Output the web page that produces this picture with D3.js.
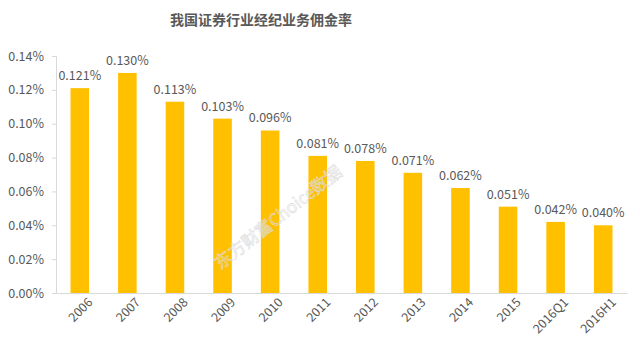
<!DOCTYPE html>
<html>
<head>
<meta charset="utf-8">
<script src="https://cdn.jsdelivr.net/npm/d3@7/dist/d3.min.js"></script>
<style>
  body { margin: 0; background: #fff; }
  svg text { font-family: "Noto Sans CJK SC", "Liberation Sans", sans-serif; }
</style>
</head>
<body>
<div id="chart"></div>
<script>
var categories = ["2006", "2007", "2008", "2009", "2010", "2011", "2012", "2013", "2014", "2015", "2016Q1", "2016H1"];
var rates = [0.121, 0.130, 0.113, 0.103, 0.096, 0.081, 0.078, 0.071, 0.062, 0.051, 0.042, 0.040];
var yTicks = [0, 0.02, 0.04, 0.06, 0.08, 0.10, 0.12, 0.14];

var width = 640, height = 353;
var margin = { left: 56, right: 13, top: 56, bottom: 60 };

var svg = d3.select("#chart").append("svg")
  .attr("width", width)
  .attr("height", height);

var x = d3.scaleBand()
  .domain(categories)
  .range([margin.left, width - margin.right])
  .paddingInner(0.61)
  .paddingOuter(0.305);

var y = d3.scaleLinear()
  .domain([0, 0.14])
  .range([height - margin.bottom, margin.top]);

// title
svg.append("text")
  .attr("x", 261)
  .attr("y", 25)
  .attr("text-anchor", "middle")
  .style("font-size", "14px")
  .style("font-weight", "bold")
  .style("fill", "#595959")
  .text("我国证券行业经纪业务佣金率");

// y axis
var yAxis = svg.append("g")
  .attr("transform", "translate(" + margin.left + ",0)")
  .call(d3.axisLeft(y).tickValues(yTicks).tickSize(4).tickPadding(8)
    .tickFormat(function (d) { return d.toFixed(2) + "%"; }));
yAxis.select(".domain").attr("stroke", "#d9d9d9");
yAxis.selectAll(".tick line").attr("stroke", "#d9d9d9");
yAxis.selectAll(".tick text")
  .style("font-size", "12.5px")
  .style("fill", "#595959")
  .attr("font-family", "Liberation Sans, sans-serif");

// x axis
var xAxis = svg.append("g")
  .attr("transform", "translate(0," + y(0) + ")")
  .call(d3.axisBottom(x).tickSize(0).tickPadding(8));
xAxis.select(".domain").attr("stroke", "#d9d9d9").attr("stroke-width", 1.2);
xAxis.selectAll(".tick text")
  .style("font-size", "12.5px")
  .style("fill", "#595959")
  .attr("font-family", "Liberation Sans, sans-serif")
  .attr("text-anchor", "end")
  .attr("dx", "0.2em")
  .attr("dy", "0.7em")
  .attr("transform", "rotate(-45)");

// bars
svg.selectAll("rect.bar")
  .data(rates)
  .enter().append("rect")
  .attr("class", "bar")
  .attr("x", function (d, i) { return x(categories[i]); })
  .attr("y", function (d) { return y(d); })
  .attr("width", x.bandwidth())
  .attr("height", function (d) { return y(0) - y(d); })
  .attr("fill", "#FFC000");

// labels
svg.selectAll("text.lbl")
  .data(rates)
  .enter().append("text")
  .attr("class", "lbl")
  .attr("x", function (d, i) { return x(categories[i]) + x.bandwidth() / 2; })
  .attr("y", function (d) { return y(d) - 8; })
  .attr("text-anchor", "middle")
  .style("font-size", "12.5px")
  .style("fill", "#595959")
  .attr("font-family", "Liberation Sans, sans-serif")
  .text(function (d) { return d.toFixed(3) + "%"; });

// watermark
svg.append("text")
  .attr("transform", "translate(282,222) rotate(-38)")
  .attr("text-anchor", "middle")
  .style("font-size", "17px")
  .style("fill", "none")
  .style("stroke", "#dcdcdc")
  .style("stroke-width", 0.6)
  .text("东方财富Choice数据");
</script>
</body>
</html>
